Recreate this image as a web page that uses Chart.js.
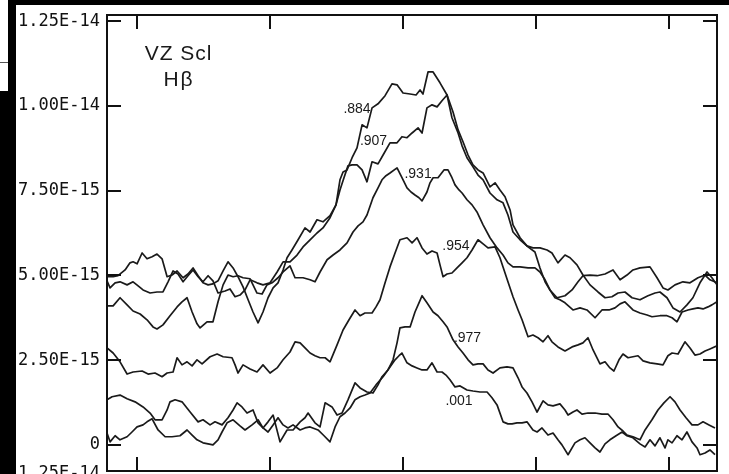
<!DOCTYPE html>
<html>
<head>
<meta charset="utf-8">
<script src="https://cdn.jsdelivr.net/npm/chart.js@4.4.1/dist/chart.umd.min.js"></script>
<style>
  html, body { margin: 0; padding: 0; background: #fff; overflow: hidden; }
  canvas { display: block; }
</style>
</head>
<body>
<canvas id="c" width="729" height="474"></canvas>
<script>
// Hβ profiles of VZ Scl at six phases.
// Wavelength in Å, flux in units of 1e-15.

const waveA = [4837.74, 4838.20, 4838.57, 4839.10, 4839.47, 4839.70, 4840.00, 4840.38, 4840.75, 4841.13, 4841.50, 4841.88, 4842.26, 4842.63, 4843.01, 4843.46, 4843.83, 4844.21, 4844.59, 4844.96, 4845.34, 4845.71, 4846.09, 4846.47, 4846.84, 4847.22, 4847.59, 4847.97, 4848.35, 4848.72, 4849.10, 4849.47, 4849.85, 4850.23, 4850.60, 4850.98, 4851.28, 4851.65, 4852.11, 4852.63, 4853.01, 4853.53, 4853.98, 4854.51, 4854.96, 4855.26, 4855.49, 4855.79, 4856.17, 4856.54, 4856.92, 4857.29, 4857.67, 4858.12, 4858.65, 4859.17, 4859.55, 4860.00, 4860.53, 4860.98, 4861.28, 4861.50, 4861.88, 4862.26, 4862.78, 4863.31, 4863.76, 4864.14, 4864.51, 4864.89, 4865.26, 4865.64, 4866.02, 4866.54, 4866.92, 4867.29, 4867.67, 4868.05, 4868.27, 4868.80, 4869.32, 4869.77, 4870.30, 4870.83, 4871.20, 4871.65, 4872.18, 4872.56, 4873.08, 4873.53, 4874.06, 4874.66, 4875.19, 4875.71, 4876.17, 4876.69, 4877.22, 4877.82, 4878.42, 4878.95, 4879.32, 4879.85, 4880.30, 4880.83, 4881.35, 4881.80, 4882.33, 4882.86, 4883.23, 4883.61];
const fluxA = [4.96, 4.96, 4.99, 5.16, 5.37, 5.40, 5.34, 5.66, 5.49, 5.55, 5.63, 5.49, 4.96, 5.01, 5.13, 4.93, 5.04, 5.22, 4.99, 4.78, 4.72, 4.75, 4.84, 5.13, 5.40, 5.22, 4.96, 4.66, 4.28, 3.92, 3.60, 3.92, 4.34, 4.63, 4.78, 5.16, 5.52, 5.75, 6.05, 6.40, 6.28, 6.64, 6.58, 6.76, 7.08, 7.82, 8.05, 8.11, 8.47, 8.76, 9.44, 9.35, 9.94, 10.06, 10.30, 10.65, 10.62, 10.38, 10.35, 10.32, 10.47, 10.35, 11.00, 11.00, 10.68, 10.32, 9.82, 9.29, 8.94, 8.55, 8.26, 8.11, 8.02, 7.61, 7.73, 7.52, 7.32, 6.93, 6.49, 6.11, 5.87, 5.81, 5.81, 5.75, 5.66, 5.37, 5.60, 5.52, 5.31, 5.01, 4.72, 4.51, 4.34, 4.37, 4.48, 4.51, 4.34, 4.28, 4.40, 4.48, 4.51, 4.34, 4.04, 3.92, 4.13, 4.34, 4.78, 5.10, 4.93, 4.72];

const waveB = [4837.74, 4837.97, 4838.35, 4838.72, 4839.25, 4839.70, 4840.08, 4840.45, 4840.98, 4841.50, 4841.95, 4842.33, 4842.71, 4843.08, 4843.46, 4843.83, 4844.21, 4844.59, 4844.96, 4845.34, 4845.71, 4846.09, 4846.62, 4846.99, 4847.37, 4847.74, 4848.12, 4848.50, 4849.02, 4849.47, 4850.00, 4850.53, 4850.98, 4851.50, 4852.03, 4852.48, 4853.01, 4853.53, 4853.98, 4854.51, 4854.96, 4855.26, 4855.56, 4855.86, 4856.17, 4856.54, 4856.92, 4857.29, 4857.67, 4858.12, 4858.50, 4859.02, 4859.55, 4859.92, 4860.30, 4860.68, 4861.13, 4861.43, 4861.80, 4862.18, 4862.56, 4862.93, 4863.31, 4863.68, 4864.14, 4864.44, 4864.81, 4865.26, 4865.64, 4866.02, 4866.54, 4867.07, 4867.52, 4867.89, 4868.27, 4868.80, 4869.40, 4869.92, 4870.30, 4870.68, 4871.05, 4871.58, 4872.18, 4872.71, 4873.16, 4873.53, 4874.06, 4874.59, 4875.19, 4875.79, 4876.32, 4876.84, 4877.29, 4877.82, 4878.57, 4879.10, 4879.55, 4879.92, 4880.45, 4881.05, 4881.58, 4882.18, 4882.71, 4883.08, 4883.61];
const fluxB = [4.84, 4.63, 4.78, 4.81, 4.72, 4.81, 4.69, 4.57, 4.48, 4.51, 4.51, 4.81, 5.13, 5.04, 4.81, 4.99, 5.16, 4.96, 4.81, 4.99, 4.84, 4.48, 4.54, 4.60, 4.37, 4.42, 4.57, 4.87, 4.78, 4.72, 4.78, 5.10, 5.40, 5.40, 5.60, 5.84, 6.05, 6.25, 6.40, 6.70, 7.08, 7.52, 7.88, 8.23, 8.26, 8.26, 8.11, 7.76, 8.35, 8.29, 8.55, 8.91, 8.91, 9.09, 9.06, 9.20, 9.35, 9.20, 9.94, 10.03, 9.97, 10.15, 10.32, 9.65, 9.20, 8.82, 8.47, 8.20, 7.96, 7.82, 7.43, 7.23, 7.14, 6.78, 6.28, 6.05, 5.84, 5.69, 5.22, 4.81, 4.57, 4.34, 4.40, 4.57, 4.81, 4.99, 5.01, 4.99, 5.04, 5.16, 4.87, 5.01, 5.16, 5.22, 5.25, 4.93, 4.63, 4.57, 4.72, 4.81, 4.78, 4.93, 5.01, 4.87, 4.78];

const waveC = [4837.74, 4838.20, 4838.72, 4839.25, 4839.70, 4840.23, 4840.75, 4841.20, 4841.50, 4841.95, 4842.48, 4843.01, 4843.38, 4843.76, 4844.14, 4844.51, 4844.74, 4845.26, 4845.71, 4846.09, 4846.47, 4846.84, 4847.22, 4847.59, 4847.97, 4848.50, 4849.02, 4849.40, 4849.77, 4850.15, 4850.60, 4850.98, 4851.50, 4851.88, 4852.48, 4853.01, 4853.38, 4853.76, 4854.29, 4854.74, 4855.26, 4855.79, 4856.24, 4856.62, 4856.99, 4857.29, 4857.74, 4858.12, 4858.42, 4858.72, 4859.02, 4859.55, 4859.92, 4860.30, 4860.60, 4860.90, 4861.20, 4861.43, 4861.80, 4862.03, 4862.26, 4862.63, 4863.08, 4863.38, 4863.68, 4863.91, 4864.21, 4864.44, 4864.81, 4865.19, 4865.56, 4866.02, 4866.54, 4867.07, 4867.52, 4867.89, 4868.27, 4868.80, 4869.40, 4869.92, 4870.30, 4870.68, 4871.05, 4871.43, 4871.80, 4872.18, 4872.78, 4873.31, 4873.83, 4874.44, 4874.96, 4875.49, 4875.94, 4876.32, 4876.69, 4877.29, 4877.82, 4878.35, 4878.72, 4879.32, 4879.85, 4880.23, 4880.60, 4880.98, 4881.43, 4881.80, 4882.18, 4882.56, 4882.93, 4883.23, 4883.61];
const fluxC = [4.10, 4.10, 4.34, 4.13, 3.95, 3.86, 3.69, 3.48, 3.42, 3.54, 3.81, 4.07, 4.22, 4.34, 3.92, 3.57, 3.45, 3.63, 3.63, 4.22, 4.72, 5.01, 4.96, 4.99, 4.93, 4.90, 4.48, 4.45, 4.72, 4.78, 4.93, 5.10, 5.28, 4.93, 4.93, 4.87, 4.81, 5.10, 5.46, 5.60, 5.75, 5.96, 6.28, 6.46, 6.58, 6.78, 7.29, 7.58, 7.82, 7.94, 8.02, 8.17, 7.88, 7.58, 7.46, 7.37, 7.29, 7.20, 7.46, 7.73, 7.88, 7.88, 8.11, 8.11, 7.88, 7.67, 7.52, 7.43, 7.23, 7.08, 6.87, 6.49, 6.11, 5.81, 5.60, 5.37, 5.25, 5.25, 5.22, 5.22, 5.10, 4.87, 4.57, 4.34, 4.28, 4.19, 3.98, 4.04, 3.98, 3.75, 3.98, 3.98, 4.04, 4.16, 4.22, 3.98, 3.89, 3.83, 3.78, 3.81, 3.81, 3.75, 3.63, 3.92, 3.98, 4.01, 4.04, 4.01, 4.07, 4.13, 4.22];

const waveD = [4837.74, 4838.20, 4838.72, 4839.25, 4839.70, 4840.38, 4840.83, 4841.35, 4841.88, 4842.26, 4842.71, 4843.01, 4843.38, 4843.76, 4844.14, 4844.51, 4844.89, 4845.49, 4846.02, 4846.47, 4847.14, 4847.37, 4847.59, 4847.97, 4848.50, 4849.02, 4849.47, 4850.00, 4850.53, 4850.98, 4851.50, 4851.88, 4852.26, 4852.63, 4853.01, 4853.38, 4853.76, 4854.14, 4854.51, 4855.04, 4855.49, 4855.94, 4856.39, 4856.77, 4857.14, 4857.67, 4857.97, 4858.27, 4858.65, 4859.02, 4859.40, 4859.77, 4860.30, 4860.68, 4861.05, 4861.43, 4861.80, 4862.18, 4862.56, 4862.78, 4863.01, 4863.31, 4863.68, 4864.06, 4864.44, 4864.81, 4865.19, 4865.64, 4866.02, 4866.39, 4866.92, 4867.29, 4867.52, 4867.89, 4868.27, 4868.65, 4868.95, 4869.40, 4869.77, 4870.15, 4870.53, 4870.90, 4871.20, 4871.65, 4872.18, 4872.71, 4873.16, 4873.53, 4873.91, 4874.29, 4874.81, 4875.19, 4875.56, 4875.86, 4876.24, 4876.54, 4876.92, 4877.29, 4877.67, 4878.05, 4878.57, 4879.10, 4879.55, 4879.92, 4880.23, 4880.68, 4881.20, 4881.58, 4881.95, 4882.33, 4882.71, 4883.08, 4883.61];
const fluxD = [2.86, 2.71, 2.45, 2.09, 2.15, 2.18, 2.09, 2.12, 2.01, 2.12, 2.15, 2.57, 2.36, 2.45, 2.33, 2.51, 2.39, 2.60, 2.68, 2.60, 2.57, 2.36, 2.12, 2.36, 2.24, 2.15, 2.36, 2.12, 2.27, 2.51, 2.74, 3.04, 3.01, 2.86, 2.71, 2.63, 2.57, 2.57, 2.45, 2.95, 3.39, 3.69, 3.98, 3.81, 3.89, 3.89, 4.07, 4.28, 4.78, 5.25, 5.66, 6.05, 6.11, 5.96, 6.11, 5.81, 5.63, 5.72, 5.66, 5.31, 4.96, 5.04, 5.07, 5.22, 5.37, 5.52, 5.75, 6.05, 5.93, 5.81, 5.84, 5.52, 5.25, 4.81, 4.37, 3.98, 3.69, 3.19, 3.24, 3.16, 3.04, 3.22, 3.04, 2.89, 2.77, 2.89, 2.95, 3.01, 3.16, 2.80, 2.39, 2.45, 2.27, 2.18, 2.51, 2.68, 2.57, 2.60, 2.63, 2.48, 2.42, 2.39, 2.36, 2.63, 2.71, 2.68, 3.04, 2.86, 2.65, 2.68, 2.77, 2.83, 2.92];

const waveE = [4837.74, 4838.12, 4838.72, 4839.25, 4839.85, 4840.45, 4840.98, 4841.35, 4841.88, 4842.26, 4842.48, 4842.86, 4843.38, 4843.99, 4844.59, 4844.96, 4845.49, 4845.86, 4846.39, 4846.84, 4847.22, 4847.52, 4847.89, 4848.27, 4848.72, 4849.10, 4849.47, 4849.85, 4850.23, 4850.75, 4851.28, 4851.73, 4852.26, 4852.63, 4852.86, 4853.38, 4853.76, 4854.14, 4854.66, 4855.04, 4855.41, 4855.86, 4856.39, 4856.77, 4857.29, 4857.74, 4858.12, 4858.42, 4858.87, 4859.25, 4859.55, 4859.77, 4860.15, 4860.53, 4860.90, 4861.20, 4861.43, 4861.80, 4862.26, 4862.63, 4863.01, 4863.31, 4863.76, 4864.14, 4864.51, 4864.89, 4865.26, 4865.64, 4866.02, 4866.39, 4866.77, 4867.29, 4867.82, 4868.27, 4868.65, 4868.95, 4869.32, 4869.70, 4870.08, 4870.53, 4870.90, 4871.28, 4871.80, 4872.18, 4872.41, 4872.78, 4873.08, 4873.46, 4873.91, 4874.44, 4874.96, 4875.41, 4875.79, 4876.17, 4876.54, 4876.84, 4877.29, 4877.82, 4878.20, 4878.72, 4879.17, 4879.62, 4880.08, 4880.45, 4880.83, 4881.28, 4881.73, 4882.18, 4882.56, 4883.01, 4883.46];
const fluxE = [1.33, 1.42, 1.47, 1.36, 1.27, 1.12, 0.94, 0.74, 0.74, 1.03, 1.27, 1.33, 1.27, 0.97, 0.68, 0.74, 0.59, 0.68, 0.59, 0.80, 1.03, 1.24, 1.12, 0.94, 1.03, 0.65, 0.50, 0.68, 0.88, 0.09, 0.44, 0.44, 0.68, 0.80, 0.94, 0.65, 0.53, 1.24, 1.12, 0.88, 0.94, 1.33, 1.83, 1.68, 1.56, 1.53, 1.77, 2.01, 2.21, 2.51, 3.01, 3.45, 3.48, 3.48, 3.92, 4.19, 4.40, 4.19, 3.92, 3.81, 3.63, 3.48, 3.10, 2.89, 2.71, 2.51, 2.36, 2.39, 2.39, 2.21, 2.12, 2.27, 2.30, 2.27, 1.98, 1.71, 1.53, 1.27, 0.97, 1.30, 1.18, 1.15, 1.21, 1.03, 0.88, 0.97, 1.03, 0.91, 0.94, 0.94, 0.91, 0.91, 0.74, 0.53, 0.41, 0.29, 0.24, 0.15, 0.44, 0.74, 1.03, 1.24, 1.42, 1.27, 1.03, 0.80, 0.59, 0.59, 0.68, 0.59, 0.50];

const waveF = [4837.74, 4837.97, 4838.35, 4838.72, 4839.25, 4839.62, 4840.00, 4840.45, 4840.75, 4841.13, 4841.58, 4842.11, 4842.63, 4843.23, 4843.76, 4844.14, 4844.51, 4844.96, 4845.34, 4845.71, 4846.09, 4846.39, 4846.77, 4847.22, 4847.74, 4848.12, 4848.65, 4849.10, 4849.47, 4849.85, 4850.23, 4850.60, 4850.98, 4851.35, 4851.73, 4852.26, 4852.63, 4853.01, 4853.61, 4854.06, 4854.51, 4854.89, 4855.26, 4855.64, 4856.02, 4856.39, 4856.77, 4857.14, 4857.52, 4857.97, 4858.50, 4859.02, 4859.40, 4859.70, 4859.92, 4860.30, 4860.68, 4861.05, 4861.43, 4861.80, 4862.18, 4862.56, 4862.93, 4863.23, 4863.53, 4863.91, 4864.29, 4864.81, 4865.26, 4865.79, 4866.32, 4866.69, 4867.07, 4867.52, 4867.89, 4868.20, 4868.57, 4868.95, 4869.32, 4869.77, 4870.08, 4870.45, 4870.90, 4871.28, 4871.65, 4871.95, 4872.41, 4872.93, 4873.31, 4873.68, 4874.06, 4874.44, 4874.81, 4875.19, 4875.56, 4876.02, 4876.47, 4876.84, 4877.29, 4877.82, 4878.20, 4878.57, 4878.95, 4879.32, 4879.70, 4879.92, 4880.23, 4880.60, 4880.98, 4881.35, 4881.73, 4882.11, 4882.33, 4882.71, 4883.08, 4883.46];
const fluxF = [0.35, 0.09, 0.27, 0.15, 0.24, 0.38, 0.53, 0.59, 0.68, 0.77, 0.44, 0.24, 0.24, 0.27, 0.44, 0.29, 0.15, 0.06, 0.03, 0.00, 0.15, 0.38, 0.65, 0.74, 0.56, 0.44, 0.59, 0.74, 0.50, 0.38, 0.59, 0.80, 0.59, 0.50, 0.59, 0.44, 0.50, 0.53, 0.44, 0.27, 0.09, 0.53, 0.83, 0.94, 1.09, 1.33, 1.42, 1.47, 1.53, 1.77, 2.01, 2.30, 2.51, 2.63, 2.71, 2.42, 2.33, 2.27, 2.21, 2.21, 2.42, 2.15, 2.15, 2.06, 1.92, 1.71, 1.74, 1.62, 1.59, 1.56, 1.56, 1.39, 1.18, 0.68, 0.62, 0.62, 0.65, 0.65, 0.68, 0.44, 0.38, 0.50, 0.29, 0.35, 0.15, 0.00, -0.29, 0.06, 0.15, 0.21, 0.06, -0.09, -0.21, 0.03, 0.15, 0.27, 0.38, 0.27, 0.21, 0.03, -0.06, 0.15, -0.03, 0.21, -0.09, 0.15, 0.06, 0.27, 0.15, 0.38, 0.09, -0.09, -0.29, -0.24, -0.15, -0.29];

// phase of each profile
const phases = ['.884', '.907', '.931', '.954', '.977', '.001'];
// wavelength tick marks (unlabelled) and flux tick step (1e-15 units)
const waveTicks = [4840, 4850, 4860, 4870, 4880];
const fluxStep = 2.5;

const profiles = [[waveA, fluxA], [waveB, fluxB], [waveC, fluxC], [waveD, fluxD], [waveE, fluxE], [waveF, fluxF]];

const datasets = profiles.map(([w, f], i) => ({
  label: phases[i],
  data: w.slice(0, Math.min(w.length, f.length)).map((x, j) => ({ x: x, y: f[j] })),
  showLine: true,
  borderColor: '#1a1a1a',
  borderWidth: 1.7,
  borderJoinStyle: 'round',
  pointRadius: 0,
  fill: false,
  tension: 0
}));

// flux label in scientific notation, e.g. 5.00E-15
const sciLabel = v => Math.abs(v) < 1e-9 ? '0' : (v * 1e-15).toExponential(2).toUpperCase();

// phase tags and plate title, anchored in data coordinates
const phaseTagAt = [
  [4856.54, 9.91], [4857.78, 8.95], [4861.13, 7.99],
  [4863.98, 5.87], [4864.85, 3.14], [4864.21, 1.28]
];
const titleAt = { star: [4843.12, 11.52], line: [4843.16, 10.77] };

const MONO = '"DejaVu Sans Mono", "Liberation Mono", monospace';
const SANS = '"Liberation Sans", Arial, Helvetica, sans-serif';

const plotFrame = {
  id: 'plotFrame',
  beforeDraw(chart) {
    const { ctx, width, height } = chart;
    ctx.save();
    ctx.fillStyle = '#ffffff';
    ctx.fillRect(0, 0, width, height);
    ctx.restore();
  },
  afterDatasetsDraw(chart) {
    const { ctx, chartArea: { left, top, right, bottom }, scales: { x, y } } = chart;
    ctx.save();
    ctx.strokeStyle = '#111';
    ctx.lineWidth = 2;
    ctx.strokeRect(left, top, right - left, bottom - top);

    const tl = 14;
    ctx.beginPath();
    y.ticks.forEach(t => {
      const py = Math.round(y.getPixelForValue(t.value));
      ctx.moveTo(left, py); ctx.lineTo(left + tl, py);
      ctx.moveTo(right, py); ctx.lineTo(right - tl, py);
    });
    waveTicks.forEach(v => {
      const px = Math.round(x.getPixelForValue(v));
      ctx.moveTo(px, top); ctx.lineTo(px, top + tl);
      ctx.moveTo(px, bottom); ctx.lineTo(px, bottom - tl);
    });
    ctx.stroke();

    // phase tags
    ctx.fillStyle = '#1a1a1a';
    ctx.font = '14px ' + SANS;
    ctx.textAlign = 'center';
    ctx.textBaseline = 'middle';
    phases.forEach((p, i) => {
      const [wv, fl] = phaseTagAt[i];
      ctx.fillText(p, x.getPixelForValue(wv), y.getPixelForValue(fl));
    });

    // plate title
    ctx.font = '21px ' + SANS;
    ctx.letterSpacing = '1px';
    ctx.fillText('VZ Scl', x.getPixelForValue(titleAt.star[0]), y.getPixelForValue(titleAt.star[1]));
    ctx.letterSpacing = '2px';
    ctx.fillText('H\u03B2', x.getPixelForValue(titleAt.line[0]), y.getPixelForValue(titleAt.line[1]));
    ctx.restore();
  },
  afterDraw(chart) {
    const { ctx, width, height } = chart;
    ctx.save();
    // dark plate edges
    ctx.fillStyle = '#000';
    ctx.fillRect(8, 0, 8, height);
    ctx.fillRect(0, 91, 8, height - 91);
    ctx.fillRect(16, 0, width - 16, 5);
    ctx.strokeStyle = '#555';
    ctx.lineWidth = 1;
    ctx.beginPath();
    ctx.moveTo(0, 62.5); ctx.lineTo(8, 62.5);
    ctx.stroke();
    // top label of the panel below
    ctx.fillStyle = '#111';
    ctx.font = '17px ' + MONO;
    ctx.textAlign = 'left';
    ctx.textBaseline = 'top';
    ctx.fillText('1.25E-14', 18, 465);
    ctx.restore();
  }
};

new Chart(document.getElementById('c'), {
  type: 'scatter',
  data: { datasets },
  options: {
    responsive: false,
    animation: false,
    devicePixelRatio: 1,
    layout: { padding: { left: 18, top: 15, right: 12, bottom: 3 } },
    plugins: { legend: { display: false }, tooltip: { enabled: false } },
    scales: {
      x: { type: 'linear', min: 4837.74, max: 4883.61, display: false },
      y: {
        type: 'linear',
        min: -0.77,
        max: 12.68,
        grid: { display: false, drawTicks: false },
        border: { display: false },
        ticks: {
          stepSize: fluxStep,
          includeBounds: false,
          padding: 7,
          color: '#111',
          font: { family: MONO, size: 17, lineHeight: 1 },
          callback: v => sciLabel(v)
        },
        afterFit(scale) {
          scale.width = 89;
          scale.paddingTop = 0;
          scale.paddingBottom = 0;
        }
      }
    }
  },
  plugins: [plotFrame]
});
</script>
</body>
</html>
